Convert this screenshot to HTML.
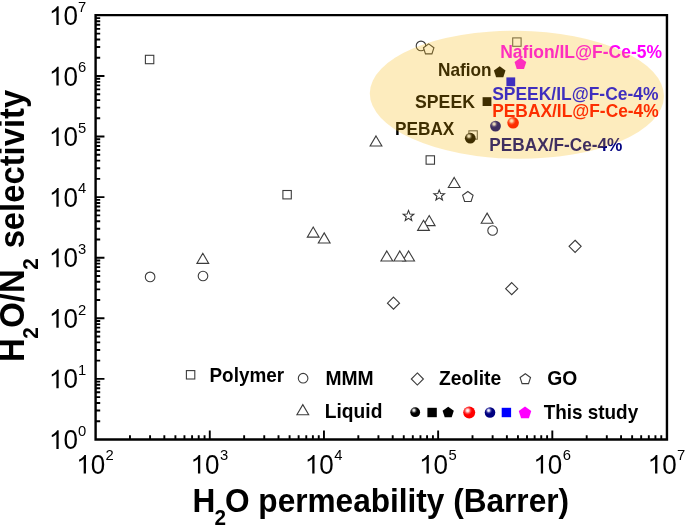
<!DOCTYPE html><html><head><meta charset="utf-8"><title>chart</title>
<style>html,body{margin:0;padding:0;background:#fff;}svg{display:block;will-change:transform;font-family:"Liberation Sans",sans-serif;}text{font-family:"Liberation Sans",sans-serif;}</style></head><body>
<svg width="685" height="526" viewBox="0 0 685 526">
<defs>
<radialGradient id="gb" cx="0.37" cy="0.31" r="0.34"><stop offset="0" stop-color="#ffffff"/><stop offset="0.3" stop-color="#d8d8d8"/><stop offset="0.65" stop-color="#404040"/><stop offset="1" stop-color="#000"/></radialGradient>
<radialGradient id="gr" cx="0.37" cy="0.33" r="0.36"><stop offset="0" stop-color="#ffffff"/><stop offset="0.3" stop-color="#ffd6d6"/><stop offset="0.65" stop-color="#ff4a4a"/><stop offset="1" stop-color="#ff0000"/></radialGradient>
<radialGradient id="gn" cx="0.37" cy="0.31" r="0.34"><stop offset="0" stop-color="#ffffff"/><stop offset="0.3" stop-color="#d0d0f0"/><stop offset="0.65" stop-color="#3838a0"/><stop offset="1" stop-color="#000080"/></radialGradient>
</defs>
<rect x="0" y="0" width="685" height="526" fill="#fff"/>
<rect x="145.40" y="55.30" width="8.4" height="8.4" stroke="#3c3c3c" stroke-width="1.1" fill="#fff"/>
<rect x="282.90" y="190.50" width="8.4" height="8.4" stroke="#3c3c3c" stroke-width="1.1" fill="#fff"/>
<rect x="426.10" y="155.80" width="8.4" height="8.4" stroke="#3c3c3c" stroke-width="1.1" fill="#fff"/>
<rect x="512.70" y="37.90" width="8.4" height="8.4" stroke="#5a5a5a" stroke-width="1.1" fill="#fff"/>
<rect x="468.90" y="130.80" width="8.4" height="8.4" stroke="#5a5a5a" stroke-width="1.1" fill="#fff"/>
<circle cx="150.1" cy="276.9" r="4.8" stroke="#3c3c3c" stroke-width="1.1" fill="#fff"/>
<circle cx="203.0" cy="276.0" r="4.8" stroke="#3c3c3c" stroke-width="1.1" fill="#fff"/>
<circle cx="421.0" cy="45.9" r="4.8" stroke="#3c3c3c" stroke-width="1.1" fill="#fff"/>
<circle cx="492.6" cy="230.5" r="4.8" stroke="#3c3c3c" stroke-width="1.1" fill="#fff"/>
<path d="M202.80 253.25 L208.70 263.35 L196.90 263.35 Z" stroke="#3c3c3c" stroke-width="1.1" fill="#fff"/>
<path d="M313.20 227.05 L319.10 237.15 L307.30 237.15 Z" stroke="#3c3c3c" stroke-width="1.1" fill="#fff"/>
<path d="M324.20 232.85 L330.10 242.95 L318.30 242.95 Z" stroke="#3c3c3c" stroke-width="1.1" fill="#fff"/>
<path d="M376.00 135.95 L381.90 146.05 L370.10 146.05 Z" stroke="#3c3c3c" stroke-width="1.1" fill="#fff"/>
<path d="M454.20 177.45 L460.10 187.55 L448.30 187.55 Z" stroke="#3c3c3c" stroke-width="1.1" fill="#fff"/>
<path d="M429.20 215.55 L435.10 225.65 L423.30 225.65 Z" stroke="#3c3c3c" stroke-width="1.1" fill="#fff"/>
<path d="M423.50 220.25 L429.40 230.35 L417.60 230.35 Z" stroke="#3c3c3c" stroke-width="1.1" fill="#fff"/>
<path d="M487.10 213.15 L493.00 223.25 L481.20 223.25 Z" stroke="#3c3c3c" stroke-width="1.1" fill="#fff"/>
<path d="M386.80 250.95 L392.70 261.05 L380.90 261.05 Z" stroke="#3c3c3c" stroke-width="1.1" fill="#fff"/>
<path d="M408.60 250.95 L414.50 261.05 L402.70 261.05 Z" stroke="#3c3c3c" stroke-width="1.1" fill="#fff"/>
<path d="M399.80 250.95 L405.70 261.05 L393.90 261.05 Z" stroke="#3c3c3c" stroke-width="1.1" fill="#fff"/>
<path d="M439.20 189.90 L440.58 193.60 L444.53 193.77 L441.44 196.23 L442.49 200.03 L439.20 197.85 L435.91 200.03 L436.96 196.23 L433.87 193.77 L437.82 193.60 Z" stroke="#333" stroke-width="1.05" fill="#fff"/>
<path d="M408.50 210.40 L409.88 214.10 L413.83 214.27 L410.74 216.73 L411.79 220.53 L408.50 218.35 L405.21 220.53 L406.26 216.73 L403.17 214.27 L407.12 214.10 Z" stroke="#333" stroke-width="1.05" fill="#fff"/>
<path d="M428.70 43.90 L433.93 47.70 L431.93 53.85 L425.47 53.85 L423.47 47.70 Z" stroke="#3c3c3c" stroke-width="1.1" fill="#fff"/>
<path d="M467.85 191.50 L473.08 195.30 L471.08 201.45 L464.62 201.45 L462.62 195.30 Z" stroke="#3c3c3c" stroke-width="1.1" fill="#fff"/>
<path d="M393.5 297.15 L399.55 303.2 L393.5 309.25 L387.45 303.2 Z" stroke="#3a3a3a" stroke-width="1.1" fill="#fff"/>
<path d="M511.7 282.65 L517.75 288.7 L511.7 294.75 L505.65 288.7 Z" stroke="#3a3a3a" stroke-width="1.1" fill="#fff"/>
<path d="M575.1 240.25 L581.15 246.3 L575.1 252.35000000000002 L569.0500000000001 246.3 Z" stroke="#3a3a3a" stroke-width="1.1" fill="#fff"/>
<path d="M499.70 66.20 L505.50 70.41 L503.29 77.24 L496.11 77.24 L493.90 70.41 Z" fill="#000"/>
<rect x="482.60" y="97.20" width="8.8" height="8.8" fill="#000"/>
<circle cx="470.3" cy="138.2" r="5.4" fill="url(#gb)"/>
<circle cx="513.1" cy="122.8" r="5.8" fill="url(#gr)"/>
<circle cx="495.5" cy="126.1" r="5.4" fill="url(#gn)"/>
<rect x="506.40" y="77.40" width="8.8" height="8.8" fill="#0000ff"/>
<path d="M520.40 57.85 L526.25 62.10 L524.01 68.98 L516.79 68.98 L514.55 62.10 Z" fill="#ff00ff"/>
<text transform="translate(438.00 76.20) scale(1 1.04)" font-size="17.25" font-weight="bold" fill="#000">Nafion</text>
<text transform="translate(415.00 108.00) scale(1 1.04)" font-size="17.7" font-weight="bold" fill="#000">SPEEK</text>
<text transform="translate(395.00 135.00) scale(1 1.04)" font-size="17.25" font-weight="bold" fill="#000">PEBAX</text>
<text transform="translate(500.20 57.70) scale(1 1.04)" font-size="17.5" font-weight="bold" fill="#ff00ff">Nafion/IL@F-Ce-5%</text>
<text transform="translate(492.20 100.10) scale(1 1.04)" font-size="17.45" font-weight="bold" fill="#0000ff">SPEEK/IL@F-Ce-4%</text>
<text transform="translate(492.20 116.90) scale(1 1.04)" font-size="17.38" font-weight="bold" fill="#ff0000">PEBAX/IL@F-Ce-4%</text>
<text transform="translate(489.30 150.70) scale(1 1.04)" font-size="17.25" font-weight="bold" fill="#000080">PEBAX/F-Ce-4%</text>
<ellipse cx="516.9" cy="94.75" rx="147.1" ry="64" transform="rotate(0.65 516.9 94.75)" fill="rgb(246,182,0)" fill-opacity="0.255"/>
<path d="M95.6 15.1 V439.45 H666.95 V15.1 Z" fill="none" stroke="#000" stroke-width="2.4"/>
<path d="M95.6 421.21h4.6 M95.6 410.55h4.6 M95.6 402.98h4.6 M95.6 397.11h4.6 M95.6 392.31h4.6 M95.6 388.25h4.6 M95.6 384.74h4.6 M95.6 381.64h4.6 M95.6 378.87h8.85 M95.6 360.63h4.6 M95.6 349.97h4.6 M95.6 342.40h4.6 M95.6 336.53h4.6 M95.6 331.73h4.6 M95.6 327.67h4.6 M95.6 324.16h4.6 M95.6 321.06h4.6 M95.6 318.29h8.85 M95.6 300.05h4.6 M95.6 289.39h4.6 M95.6 281.82h4.6 M95.6 275.95h4.6 M95.6 271.15h4.6 M95.6 267.09h4.6 M95.6 263.58h4.6 M95.6 260.48h4.6 M95.6 257.71h8.85 M95.6 239.47h4.6 M95.6 228.81h4.6 M95.6 221.24h4.6 M95.6 215.37h4.6 M95.6 210.57h4.6 M95.6 206.51h4.6 M95.6 203.00h4.6 M95.6 199.90h4.6 M95.6 197.13h8.85 M95.6 178.89h4.6 M95.6 168.23h4.6 M95.6 160.66h4.6 M95.6 154.79h4.6 M95.6 149.99h4.6 M95.6 145.93h4.6 M95.6 142.42h4.6 M95.6 139.32h4.6 M95.6 136.55h8.85 M95.6 118.31h4.6 M95.6 107.65h4.6 M95.6 100.08h4.6 M95.6 94.21h4.6 M95.6 89.41h4.6 M95.6 85.35h4.6 M95.6 81.84h4.6 M95.6 78.74h4.6 M95.6 75.97h8.85 M95.6 57.73h4.6 M95.6 47.07h4.6 M95.6 39.50h4.6 M95.6 33.63h4.6 M95.6 28.83h4.6 M95.6 24.77h4.6 M95.6 21.26h4.6 M95.6 18.16h4.6 M129.97 439.45v-4.3 M150.08 439.45v-4.3 M164.34 439.45v-4.3 M175.41 439.45v-4.3 M184.45 439.45v-4.3 M192.09 439.45v-4.3 M198.71 439.45v-4.3 M204.56 439.45v-4.3 M209.78 439.45v-8.85 M244.15 439.45v-4.3 M264.26 439.45v-4.3 M278.52 439.45v-4.3 M289.59 439.45v-4.3 M298.63 439.45v-4.3 M306.27 439.45v-4.3 M312.89 439.45v-4.3 M318.74 439.45v-4.3 M323.96 439.45v-8.85 M358.33 439.45v-4.3 M378.44 439.45v-4.3 M392.70 439.45v-4.3 M403.77 439.45v-4.3 M412.81 439.45v-4.3 M420.45 439.45v-4.3 M427.07 439.45v-4.3 M432.92 439.45v-4.3 M438.14 439.45v-8.85 M472.51 439.45v-4.3 M492.62 439.45v-4.3 M506.88 439.45v-4.3 M517.95 439.45v-4.3 M526.99 439.45v-4.3 M534.63 439.45v-4.3 M541.25 439.45v-4.3 M547.10 439.45v-4.3 M552.32 439.45v-8.85 M586.69 439.45v-4.3 M606.80 439.45v-4.3 M621.06 439.45v-4.3 M632.13 439.45v-4.3 M641.17 439.45v-4.3 M648.81 439.45v-4.3 M655.43 439.45v-4.3 M661.28 439.45v-4.3" stroke="#000" stroke-width="1.9" fill="none"/>
<defs><path id="one" d="M763 0H583V1147Q518 1085 412.5 1023Q307 961 223 930V1104Q374 1175 487 1276Q600 1377 647 1472H763Z"/></defs>
<text transform="translate(77.90 448.90) scale(1 1.04)" font-size="26" text-anchor="end" fill="#000">0</text>
<use href="#one" transform="translate(48.98 448.90) scale(0.01270 -0.01270)"/>
<text transform="translate(78.00 435.70) scale(1 1.04)" font-size="14.8" fill="#000">0</text>
<text transform="translate(77.90 388.34) scale(1 1.04)" font-size="26" text-anchor="end" fill="#000">0</text>
<use href="#one" transform="translate(48.98 388.34) scale(0.01270 -0.01270)"/>
<text transform="translate(78.00 375.14) scale(1 1.04)" font-size="14.8" fill="#000">1</text>
<text transform="translate(77.90 327.79) scale(1 1.04)" font-size="26" text-anchor="end" fill="#000">0</text>
<use href="#one" transform="translate(48.98 327.79) scale(0.01270 -0.01270)"/>
<text transform="translate(78.00 314.59) scale(1 1.04)" font-size="14.8" fill="#000">2</text>
<text transform="translate(77.90 267.23) scale(1 1.04)" font-size="26" text-anchor="end" fill="#000">0</text>
<use href="#one" transform="translate(48.98 267.23) scale(0.01270 -0.01270)"/>
<text transform="translate(78.00 254.03) scale(1 1.04)" font-size="14.8" fill="#000">3</text>
<text transform="translate(77.90 206.67) scale(1 1.04)" font-size="26" text-anchor="end" fill="#000">0</text>
<use href="#one" transform="translate(48.98 206.67) scale(0.01270 -0.01270)"/>
<text transform="translate(78.00 193.47) scale(1 1.04)" font-size="14.8" fill="#000">4</text>
<text transform="translate(77.90 146.11) scale(1 1.04)" font-size="26" text-anchor="end" fill="#000">0</text>
<use href="#one" transform="translate(48.98 146.11) scale(0.01270 -0.01270)"/>
<text transform="translate(78.00 132.91) scale(1 1.04)" font-size="14.8" fill="#000">5</text>
<text transform="translate(77.90 85.56) scale(1 1.04)" font-size="26" text-anchor="end" fill="#000">0</text>
<use href="#one" transform="translate(48.98 85.56) scale(0.01270 -0.01270)"/>
<text transform="translate(78.00 72.36) scale(1 1.04)" font-size="14.8" fill="#000">6</text>
<text transform="translate(77.90 25.00) scale(1 1.04)" font-size="26" text-anchor="end" fill="#000">0</text>
<use href="#one" transform="translate(48.98 25.00) scale(0.01270 -0.01270)"/>
<text transform="translate(78.00 11.80) scale(1 1.04)" font-size="14.8" fill="#000">7</text>
<text transform="translate(105.20 473.60) scale(1 1.04)" font-size="26" text-anchor="end" fill="#000">0</text>
<use href="#one" transform="translate(76.28 473.60) scale(0.01270 -0.01270)"/>
<text transform="translate(105.60 460.00) scale(1 1.04)" font-size="14.8" fill="#000">2</text>
<text transform="translate(219.48 473.60) scale(1 1.04)" font-size="26" text-anchor="end" fill="#000">0</text>
<use href="#one" transform="translate(190.56 473.60) scale(0.01270 -0.01270)"/>
<text transform="translate(219.88 460.00) scale(1 1.04)" font-size="14.8" fill="#000">3</text>
<text transform="translate(333.76 473.60) scale(1 1.04)" font-size="26" text-anchor="end" fill="#000">0</text>
<use href="#one" transform="translate(304.84 473.60) scale(0.01270 -0.01270)"/>
<text transform="translate(334.16 460.00) scale(1 1.04)" font-size="14.8" fill="#000">4</text>
<text transform="translate(448.04 473.60) scale(1 1.04)" font-size="26" text-anchor="end" fill="#000">0</text>
<use href="#one" transform="translate(419.12 473.60) scale(0.01270 -0.01270)"/>
<text transform="translate(448.44 460.00) scale(1 1.04)" font-size="14.8" fill="#000">5</text>
<text transform="translate(562.32 473.60) scale(1 1.04)" font-size="26" text-anchor="end" fill="#000">0</text>
<use href="#one" transform="translate(533.40 473.60) scale(0.01270 -0.01270)"/>
<text transform="translate(562.72 460.00) scale(1 1.04)" font-size="14.8" fill="#000">6</text>
<text transform="translate(676.60 473.60) scale(1 1.04)" font-size="26" text-anchor="end" fill="#000">0</text>
<use href="#one" transform="translate(647.68 473.60) scale(0.01270 -0.01270)"/>
<text transform="translate(677.00 460.00) scale(1 1.04)" font-size="14.8" fill="#000">7</text>
<text transform="translate(192.6 512.2) scale(1 1.04)" font-size="31.6" font-weight="bold" fill="#000">H<tspan font-size="20.7" dy="12.7" dx="-0.8">2</tspan><tspan dy="-12.7" dx="-1.1">O permeability (Barrer)</tspan></text>
<text transform="translate(24.2 362.0) rotate(-90) scale(1 1.06)" font-size="32.8" font-weight="bold" fill="#000">H<tspan font-size="20.7" dy="12.8" dx="-0.4">2</tspan><tspan dy="-12.8" dx="-0.5">O/N</tspan><tspan font-size="20.7" dy="12.8" dx="-0.4">2</tspan><tspan dy="-12.8" dx="0.8"> selectivity</tspan></text>
<rect x="186.40" y="370.60" width="8.4" height="8.4" stroke="#3c3c3c" stroke-width="1.1" fill="#fff"/>
<circle cx="303.1" cy="378.2" r="4.8" stroke="#3c3c3c" stroke-width="1.1" fill="#fff"/>
<path d="M417.35 372.95 L423.40000000000003 379.0 L417.35 385.05 L411.3 379.0 Z" stroke="#3a3a3a" stroke-width="1.1" fill="#fff"/>
<path d="M525.30 373.70 L530.53 377.50 L528.53 383.65 L522.07 383.65 L520.07 377.50 Z" stroke="#3c3c3c" stroke-width="1.1" fill="#fff"/>
<path d="M302.80 404.65 L308.70 414.75 L296.90 414.75 Z" stroke="#3c3c3c" stroke-width="1.1" fill="#fff"/>
<text transform="translate(209.50 382.30) scale(1 1.04)" font-size="18.9" font-weight="bold" fill="#000">Polymer</text>
<text transform="translate(325.50 384.80) scale(1 1.04)" font-size="19.3" font-weight="bold" fill="#000">MMM</text>
<text transform="translate(439.00 384.90) scale(1 1.04)" font-size="19.3" font-weight="bold" fill="#000">Zeolite</text>
<text transform="translate(547.30 384.90) scale(1 1.04)" font-size="19.3" font-weight="bold" fill="#000">GO</text>
<text transform="translate(324.80 417.90) scale(1 1.04)" font-size="19.2" font-weight="bold" fill="#000">Liquid</text>
<text transform="translate(543.70 418.90) scale(1 1.04)" font-size="18.9" font-weight="bold" fill="#000">This study</text>
<circle cx="415.2" cy="412.2" r="4.9" fill="url(#gb)"/>
<rect x="427.40" y="407.80" width="9.4" height="9.4" fill="#000"/>
<path d="M448.20 406.70 L453.81 410.78 L451.67 417.37 L444.73 417.37 L442.59 410.78 Z" fill="#000"/>
<circle cx="469.2" cy="412.6" r="6.0" fill="url(#gr)"/>
<circle cx="490.0" cy="412.5" r="5.3" fill="url(#gn)"/>
<rect x="501.70" y="407.80" width="9.4" height="9.4" fill="#0000ff"/>
<path d="M525.00 406.40 L531.28 410.96 L528.88 418.34 L521.12 418.34 L518.72 410.96 Z" fill="#ff00ff"/>
</svg></body></html>
